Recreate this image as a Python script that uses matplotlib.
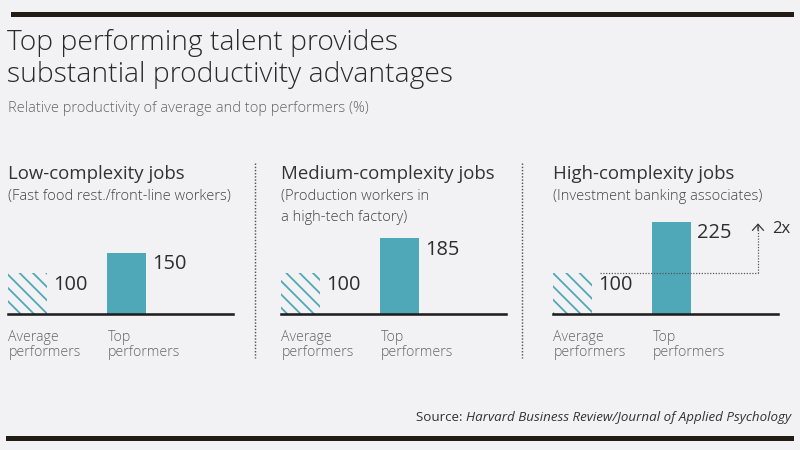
import matplotlib
matplotlib.use("Agg")
import matplotlib.pyplot as plt
from matplotlib.lines import Line2D

# chart data
panel_titles = ["Low-complexity jobs", "Medium-complexity jobs", "High-complexity jobs"]
panel_notes = [["(Fast food rest./front-line workers)"],
               ["(Production workers in", "a high-tech factory)"],
               ["(Investment banking associates)"]]
categories = ["Average\nperformers", "Top\nperformers"]
average = [100, 100, 100]
top = [150, 185, 225]
multiplier_label = "2x"

title_lines = ["Top performing talent provides", "substantial productivity advantages"]
subtitle = "Relative productivity of average and top performers (%)"
source_lead = "Source: "
source_text = "Harvard Business Review/Journal of Applied Psychology"

W, H, DPI = 800, 450, 80
BG = "#f2f1f3"
TEAL = "#4fa8b8"
FONT = "Open Sans"

plt.rcParams["font.family"] = [FONT, "DejaVu Sans"]
plt.rcParams["hatch.linewidth"] = 1.6


def fx(x):
    return x / W


def fy(y):
    return 1 - y / H


fig = plt.figure(figsize=(W / DPI, H / DPI), dpi=DPI, facecolor=BG)

# top and bottom rules
fig.add_artist(Line2D([fx(13), fx(791)], [fy(13.5), fy(13.5)], color="#231c15", lw=4.5))
fig.add_artist(Line2D([fx(8), fx(791)], [fy(438), fy(438)], color="#231c15", lw=4.5))

for k, line in enumerate(title_lines):
    fig.text(fx(7), fy(50 + 32 * k), line, fontsize=25.4, fontweight="light",
             color="#2a2a2a", va="baseline")
fig.text(fx(8), fy(112), subtitle, fontsize=13.2, fontweight="light",
         color="#666666", va="baseline")

unit_px = 99.0
bar_w = 0.39
y_px_per = 0.41
base_y = 314
ymax = 260
lefts = [8, 281, 553]
ax_w = 225
x0 = -0.2

axes = []
for i, left in enumerate(lefts):
    ax = fig.add_axes([fx(left), fy(base_y), ax_w / W, ymax * y_px_per / H])
    ax.set_facecolor("none")
    ax.set_xlim(x0, x0 + ax_w / unit_px)
    ax.set_ylim(0, ymax)
    for s in ["top", "left", "right"]:
        ax.spines[s].set_visible(False)
    ax.spines["bottom"].set_linewidth(2.3)
    ax.spines["bottom"].set_color("#1e1e1e")
    ax.set_xticks([])
    ax.set_yticks([])

    ax.bar(0, average[i], width=bar_w, facecolor="none", edgecolor=TEAL,
           hatch="\\\\", linewidth=0)
    ax.bar(1, top[i], width=bar_w, color=TEAL, linewidth=0)

    for pos, v in zip([0, 1], [average[i], top[i]]):
        ax.annotate(str(v), xy=(pos + bar_w / 2, v), xytext=(5, -1.5),
                    textcoords="offset points", ha="left", va="top",
                    fontsize=18, color="#2e2e2e", annotation_clip=False)
    for pos, lab in zip([0, 1], categories):
        ax.text(pos - bar_w / 2, -40, lab, ha="left", va="top", fontsize=12.7,
                fontweight="light", color="#666666", linespacing=1.0, clip_on=False)

    # panel headings
    fig.text(fx(left), fy(179), panel_titles[i], fontsize=16.8,
             color="#333333", va="baseline")
    for j, note in enumerate(panel_notes[i]):
        fig.text(fx(left), fy(200 + 21 * j), note, fontsize=13.2, fontweight="light",
                 color="#444444", va="baseline")
    axes.append(ax)

# 2x marker on the high-complexity panel
ax = axes[2]
arrow_x = x0 + (758 - lefts[2]) / unit_px
line_start = x0 + (600 - lefts[2]) / unit_px
tip = top[2] - 5
dot = dict(color="#555555", lw=1.1, ls=(0, (1, 1.3)))
ax.plot([line_start, arrow_x], [average[2], average[2]], **dot)
ax.plot([arrow_x, arrow_x], [average[2], tip], **dot)
ax.annotate("", xy=(arrow_x, tip + 1), xytext=(arrow_x, tip - 16),
            arrowprops=dict(arrowstyle="->,head_length=0.55,head_width=0.5",
                            color="#333333", lw=1.1, shrinkA=0, shrinkB=0))
ax.text(arrow_x + 0.14, tip - 12, multiplier_label, ha="left", va="center",
        fontsize=15, color="#2e2e2e", clip_on=False)

# dotted separators between panels
for sx in [255, 522]:
    fig.add_artist(Line2D([fx(sx), fx(sx)], [fy(163), fy(358)], color="#555555",
                          lw=1.3, ls=(0, (1, 1.2))))

# source line: plain lead + italic title
src = fig.text(fx(791), fy(421), source_text, fontsize=12.0, style="italic",
               color="#333333", ha="right", va="baseline")
fig.canvas.draw()
bb = src.get_window_extent()
fig.text(bb.x0 / fig.bbox.width, fy(421), source_lead, fontsize=12.0, color="#333333",
         ha="right", va="baseline")

fig.savefig("out.png", dpi=DPI, facecolor=BG)
